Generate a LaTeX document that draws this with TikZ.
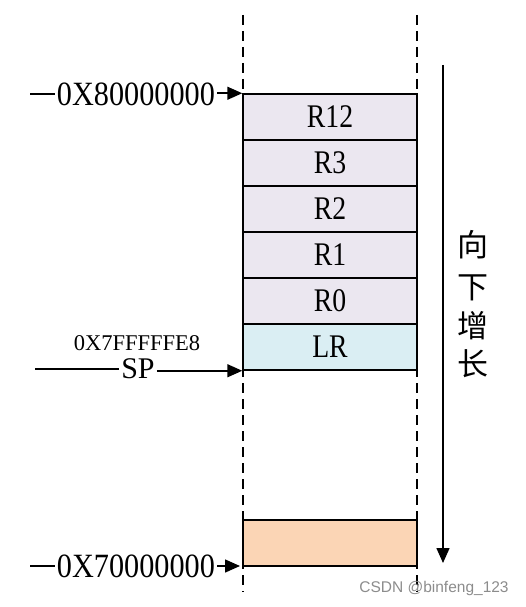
\documentclass[tikz,border=0pt]{standalone}
\usepackage{fontspec}
\setmainfont{Liberation Serif}
\newfontfamily\condf[FakeStretch=0.84]{Liberation Serif}
\newfontfamily\addrf[FakeStretch=0.89]{Liberation Serif}
\newfontfamily\cjkf{Noto Sans CJK SC}
\newfontfamily\wmf{Liberation Sans}
\usetikzlibrary{arrows.meta}
\definecolor{regfill}{RGB}{235,231,240}
\definecolor{lrfill}{RGB}{218,238,243}
\definecolor{botfill}{RGB}{251,213,181}
\tikzset{
  cell/.style={draw=black, line width=1.5pt, minimum width=174pt, minimum height=46pt, inner sep=0pt, font=\condf\fontsize{33}{33}\selectfont},
  regcell/.style={cell, fill=regfill},
  guide/.style={line width=1.5pt, dash pattern=on 10pt off 6pt},
  addr/.style={inner sep=2pt, font=\addrf\fontsize{34}{34}\selectfont},
  conn/.style={line width=1.5pt},
  tip/.style={conn, -{Triangle[length=15pt,width=13pt]}},
  cjk/.style={font=\cjkf\fontsize{31}{31}\selectfont, inner sep=0pt},
}
\begin{document}
\begin{tikzpicture}[x=1pt,y=-1pt]
\useasboundingbox (0,0) rectangle (526,607);
% guides
\coordinate (gl1) at (243,15); \coordinate (gl2) at (243,592);
\coordinate (gr1) at (417,15); \coordinate (gr2) at (417,592);
\draw[guide] (gl1) -- (gl2);
\draw[guide] (gr1) -- (gr2);
% cells
\node[regcell] (r12) at (330,117) {R12};
\node[regcell] (r3) at (330,163) {R3};
\node[regcell] (r2) at (330,209) {R2};
\node[regcell] (r1) at (330,255) {R1};
\node[regcell] (r0) at (330,301) {R0};
\node[cell, fill=lrfill] (lr) at (330,347) {LR};
\node[cell, fill=botfill] (bot) at (330,543) {};
% top address
\coordinate (a8s) at (30,94);
\node[addr] (a8) at (136,94) {0X80000000};
\draw[conn] (a8s) -- (a8.west |- a8s);
\draw[tip] (a8.east |- r12.north west) -- (r12.north west);
% SP
\node[inner sep=0pt, font=\fontsize{22.5}{22.5}\selectfont] (spaddr) at (137,343) {0X7FFFFFE8};
\coordinate (sps) at (35,369);
\node[inner sep=2pt, font=\fontsize{30}{30}\selectfont] (sp) at (138,369) {SP};
\draw[conn] (sps) -- (sp.west |- sps);
\draw[tip] (sp.east |- lr.south west) -- (lr.south west);
% bottom address
\coordinate (a7s) at (30,566);
\coordinate (a7e) at (240,566);
\node[addr] (a7) at (136,566) {0X70000000};
\draw[conn] (a7s) -- (a7.west |- a7s);
\draw[tip] (a7.east |- a7e) -- (a7e);
% growth arrow
\coordinate (g1) at (443,65);
\coordinate (g2) at (443,563);
\draw[tip] (g1) -- (g2);
\node[cjk] (c1) at (473,245) {向};
\node[cjk] (c2) at (473,288) {下};
\node[cjk] (c3) at (473,326) {增};
\node[cjk] (c4) at (473,364) {长};
% watermark
\node[font=\wmf\fontsize{15.5}{15.5}\selectfont, text=black!45, inner sep=0pt] (wm) at (434,588) {CSDN @binfeng\_123};
\end{tikzpicture}
\end{document}
